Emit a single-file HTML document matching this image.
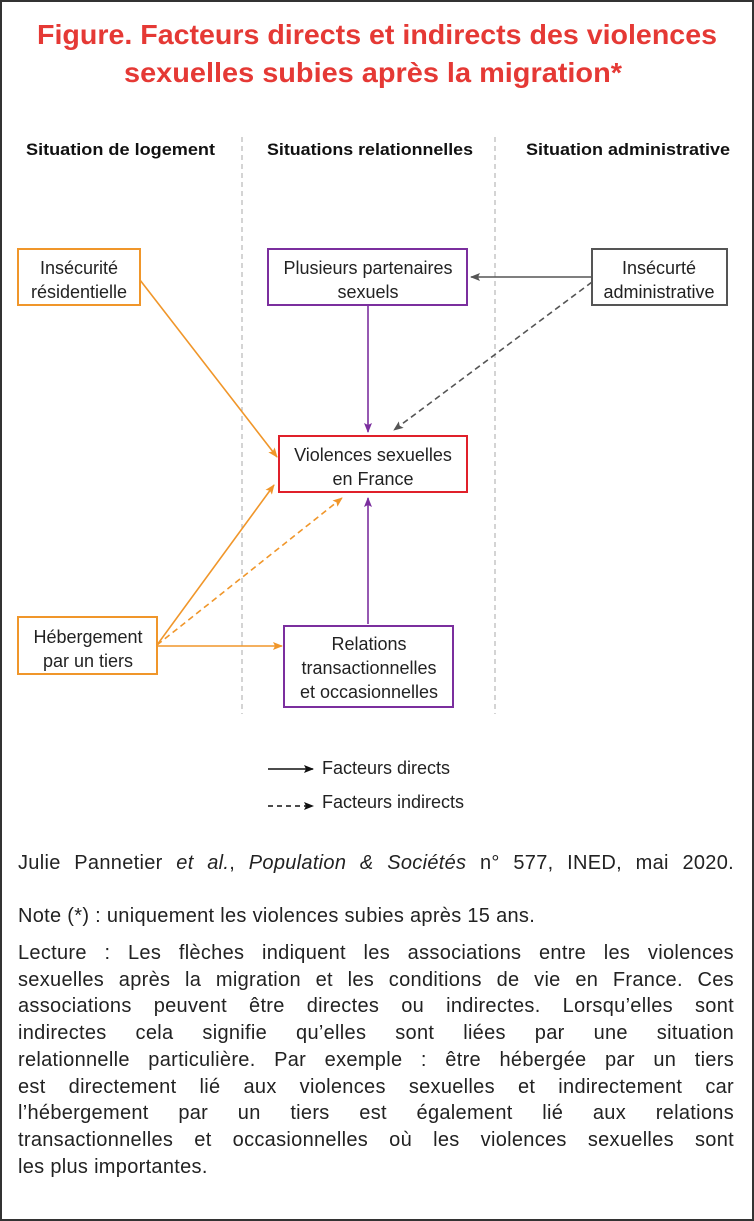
<!DOCTYPE html>
<html><head><meta charset="utf-8"><style>
body{margin:0;background:#fff;}
#f{position:relative;width:750px;height:1217px;border:2px solid #333;overflow:hidden;font-family:"Liberation Sans",sans-serif;color:#222;}
.p{position:absolute;left:16px;width:716px;font-size:20px;line-height:26.7px;letter-spacing:0.3px}
.j{text-align:justify;text-align-last:justify;display:block;white-space:nowrap;}
</style></head><body><div id="f">
<svg width="750" height="820" style="position:absolute;left:0;top:0" font-family="Liberation Sans, sans-serif">
<defs>
<marker id="ao" markerWidth="10" markerHeight="8" refX="9" refY="4" orient="auto" markerUnits="userSpaceOnUse"><path d="M0,0L10,4L0,8L2,4z" fill="#f0962a"/></marker>
<marker id="ap" markerWidth="10" markerHeight="8" refX="9" refY="4" orient="auto" markerUnits="userSpaceOnUse"><path d="M0,0L10,4L0,8L2,4z" fill="#7b2f9e"/></marker>
<marker id="ag" markerWidth="10" markerHeight="8" refX="9" refY="4" orient="auto" markerUnits="userSpaceOnUse"><path d="M0,0L10,4L0,8L2,4z" fill="#555"/></marker>
<marker id="ak" markerWidth="10" markerHeight="8" refX="9" refY="4" orient="auto" markerUnits="userSpaceOnUse"><path d="M0,0L10,4L0,8L2,4z" fill="#111"/></marker>
</defs>
<g fill="#e53935" font-size="28" font-weight="bold">
<text x="35" y="42" textLength="680" lengthAdjust="spacingAndGlyphs">Figure. Facteurs directs et indirects des violences</text>
<text x="122" y="80" textLength="498" lengthAdjust="spacingAndGlyphs">sexuelles subies après la migration*</text>
</g>
<g font-size="17" font-weight="bold" fill="#111">
<text x="24" y="153" textLength="189" lengthAdjust="spacingAndGlyphs">Situation de logement</text>
<text x="265" y="153" textLength="206" lengthAdjust="spacingAndGlyphs">Situations relationnelles</text>
<text x="524" y="153" textLength="204" lengthAdjust="spacingAndGlyphs">Situation administrative</text>
</g>
<g stroke="#aaa" stroke-dasharray="5,4" stroke-width="1"><line x1="240" y1="135" x2="240" y2="712"/><line x1="493" y1="135" x2="493" y2="712"/></g>
<g fill="none" stroke-width="2">
<rect x="16" y="247" width="122" height="56" stroke="#f0962a"/>
<rect x="266" y="247" width="199" height="56" stroke="#7b2f9e"/>
<rect x="590" y="247" width="135" height="56" stroke="#555"/>
<rect x="277" y="434" width="188" height="56" stroke="#e0202a"/>
<rect x="16" y="615" width="139" height="57" stroke="#f0962a"/>
<rect x="282" y="624" width="169" height="81" stroke="#7b2f9e"/>
</g>
<g font-size="18" fill="#222" text-anchor="middle">
<text x="77" y="272">Insécurité</text><text x="77" y="296">résidentielle</text>
<text x="366" y="272">Plusieurs partenaires</text><text x="366" y="296">sexuels</text>
<text x="657" y="272">Insécurté</text><text x="657" y="296">administrative</text>
<text x="371" y="459">Violences sexuelles</text><text x="371" y="483">en France</text>
<text x="86" y="641">Hébergement</text><text x="86" y="665">par un tiers</text>
<text x="367" y="648">Relations</text><text x="367" y="672">transactionnelles</text><text x="367" y="696">et occasionnelles</text>
</g>
<g stroke-width="1.6" fill="none">
<line x1="590" y1="275" x2="469" y2="275" stroke="#555" marker-end="url(#ag)"/>
<line x1="590" y1="280" x2="392" y2="428" stroke="#555" stroke-dasharray="6,4" marker-end="url(#ag)"/>
<line x1="366" y1="304" x2="366" y2="430" stroke="#7b2f9e" marker-end="url(#ap)"/>
<line x1="366" y1="622" x2="366" y2="496" stroke="#7b2f9e" marker-end="url(#ap)"/>
<line x1="138" y1="278" x2="275" y2="455" stroke="#f0962a" marker-end="url(#ao)"/>
<line x1="155" y1="643" x2="272" y2="483" stroke="#f0962a" marker-end="url(#ao)"/>
<line x1="155" y1="643" x2="340" y2="496" stroke="#f0962a" stroke-dasharray="6,4" marker-end="url(#ao)"/>
<line x1="155" y1="644" x2="280" y2="644" stroke="#f0962a" marker-end="url(#ao)"/>
<line x1="266" y1="767" x2="311" y2="767" stroke="#111" marker-end="url(#ak)"/>
<line x1="266" y1="804" x2="311" y2="804" stroke="#111" stroke-dasharray="5,4" marker-end="url(#ak)"/>
</g>
<g font-size="18" fill="#222"><text x="320" y="772">Facteurs directs</text><text x="320" y="806">Facteurs indirects</text></g>
</svg>
<div class="p" style="top:848px"><span class="j">Julie Pannetier <i>et al.</i>, <i>Population &amp; Sociétés</i> n° 577, INED, mai 2020.</span></div>
<div class="p" style="top:901px">Note (*) : uniquement les violences subies après 15 ans.</div>
<div class="p" style="top:938px">
<span class="j">Lecture : Les flèches indiquent les associations entre les violences</span>
<span class="j">sexuelles après la migration et les conditions de vie en France. Ces</span>
<span class="j">associations peuvent être directes ou indirectes. Lorsqu’elles sont</span>
<span class="j">indirectes cela signifie qu’elles sont liées par une situation</span>
<span class="j">relationnelle particulière. Par exemple : être hébergée par un tiers</span>
<span class="j">est directement lié aux violences sexuelles et indirectement car</span>
<span class="j">l’hébergement par un tiers est également lié aux relations</span>
<span class="j">transactionnelles et occasionnelles où les violences sexuelles sont</span>
<span style="display:block">les plus importantes.</span>
</div>
</div></body></html>
